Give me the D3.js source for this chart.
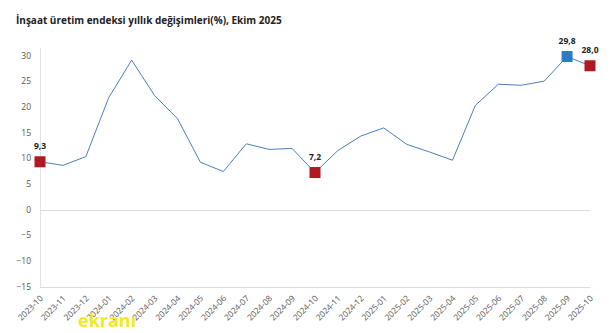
<!DOCTYPE html>
<html><head><meta charset="utf-8">
<script src="https://cdn.jsdelivr.net/npm/d3@7"></script>
<style>body{margin:0;background:#fff}svg{display:block}</style>
</head><body>
<svg id="c" width="610" height="333"></svg>
<script>
const title = "İnşaat üretim endeksi yıllık değişimleri(%), Ekim 2025";
const months = ["2023-10","2023-11","2023-12","2024-01","2024-02","2024-03","2024-04","2024-05","2024-06","2024-07","2024-08","2024-09","2024-10","2024-11","2024-12","2025-01","2025-02","2025-03","2025-04","2025-05","2025-06","2025-07","2025-08","2025-09","2025-10"];
const values = [9.3,8.6,10.3,21.8,29.1,22.2,17.7,9.2,7.4,12.8,11.7,11.9,7.2,11.5,14.3,15.9,12.7,11.2,9.6,20.3,24.4,24.2,25.0,29.8,28.0];
const yTicks = [30,25,20,15,10,5,0,-5,-10,-15];
const highlighted = [
  {month:"2023-10", color:"#b01822", label:"9,3"},
  {month:"2024-10", color:"#b01822", label:"7,2"},
  {month:"2025-09", color:"#2f7bbf", label:"29,8"},
  {month:"2025-10", color:"#b01822", label:"28,0"}
];

const svg = d3.select("#c");
const x = d3.scalePoint().domain(months).range([40, 590]);
const y = d3.scaleLinear().domain([-15, 30]).range([286.5, 55.5]);

svg.append("text").attr("x", 16).attr("y", 24)
  .attr("font-family", "Open Sans, sans-serif").attr("font-weight", "bold")
  .attr("font-size", 10).attr("fill", "#222").text(title);

svg.append("line").attr("x1", 40.5).attr("x2", 40.5).attr("y1", 48).attr("y2", 287)
  .attr("stroke", "#e3e3e3");
[0, -15].forEach(v => svg.append("line").attr("x1", 40).attr("x2", 590)
  .attr("y1", Math.round(y(v)) + 0.5).attr("y2", Math.round(y(v)) + 0.5)
  .attr("stroke", "#dcdcdc"));

const yAxis = d3.axisLeft(y).tickValues(yTicks).tickSize(0).tickPadding(9);
const ya = svg.append("g").attr("transform", "translate(40,0)").call(yAxis);
ya.select(".domain").remove();
ya.selectAll("text").attr("font-family", "Open Sans, sans-serif").attr("font-size", 8.5).attr("fill", "#555");

const xAxis = d3.axisBottom(x).tickSize(0).tickPadding(0);
const xa = svg.append("g").attr("transform", "translate(0,287)").call(xAxis);
xa.select(".domain").remove();
xa.selectAll("text").attr("font-family", "Open Sans, sans-serif").attr("font-size", 8.3).attr("fill", "#555")
  .attr("text-anchor", "end").attr("dy", null)
  .attr("transform", "translate(3,12) rotate(-45)");

const line = d3.line().x((d, i) => x(months[i])).y(d => y(d));
svg.append("path").datum(values).attr("d", line).attr("fill", "none")
  .attr("stroke", "#4a7ebb").attr("stroke-width", 1);

highlighted.forEach(h => {
  const i = months.indexOf(h.month);
  const cx = x(h.month), cy = y(values[i]);
  svg.append("rect").attr("x", cx - 5.5).attr("y", cy - 5.5).attr("width", 11).attr("height", 11)
    .attr("fill", h.color);
  svg.append("text").attr("x", cx).attr("y", cy - 13).attr("text-anchor", "middle")
    .attr("font-family", "Open Sans, sans-serif").attr("font-weight", "bold").attr("font-size", 8.5)
    .attr("fill", "#222").text(h.label);
});

svg.append("text").attr("x", 78).attr("y", 327).attr("font-family", "Open Sans, sans-serif")
  .attr("font-weight", "bold").attr("font-size", 18).attr("fill", "#f2ea1c").text("ekranı");
</script>
</body></html>
